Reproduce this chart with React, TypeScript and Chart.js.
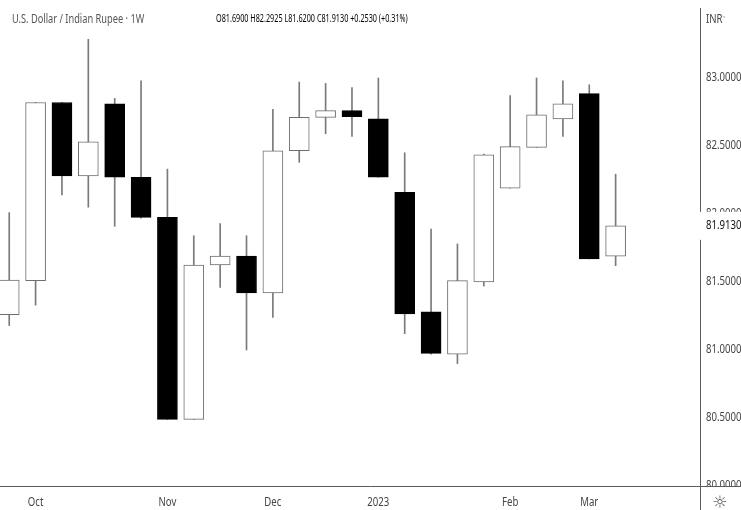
import React, { useEffect, useRef } from "react";
import { Chart, registerables } from "chart.js";

Chart.register(...registerables);

// Weekly USD/INR candles (index 0 = week of 26 Sep 2022 ... index 23 = week of 6 Mar 2023)
const candleIndex = [0, 1, 2, 3, 4, 5, 6, 7, 8, 9, 10, 11, 12, 13, 14, 15, 16, 17, 18, 19, 20, 21, 22, 23];
const opens = [81.26, 81.51, 82.82, 82.28, 82.81, 82.27, 81.975, 80.49, 81.625, 81.69, 81.42, 82.465, 82.71, 82.76, 82.70, 82.16, 81.28, 80.97, 81.50, 82.19, 82.49, 82.70, 82.885, 81.69];
const highs = [82.01, 82.82, 82.82, 83.285, 82.85, 82.98, 82.33, 81.84, 81.93, 81.84, 82.77, 82.97, 82.96, 82.93, 83.0, 82.45, 81.89, 81.78, 82.44, 82.87, 83.0, 82.98, 82.95, 82.2925];
const lows = [81.18, 81.33, 82.14, 82.05, 81.91, 81.97, 80.49, 80.49, 81.46, 81.0, 81.24, 82.38, 82.59, 82.57, 82.27, 81.12, 80.97, 80.90, 81.47, 82.19, 82.49, 82.57, 81.67, 81.62];
const closes = [81.515, 82.82, 82.28, 82.53, 82.27, 81.975, 80.49, 81.625, 81.69, 81.42, 82.465, 82.71, 82.76, 82.715, 82.27, 81.265, 80.975, 81.51, 82.435, 82.495, 82.73, 82.81, 81.67, 81.913];

const monthTickPositions = [1, 6, 10, 14, 19, 22];
const monthTickLabels = ["Oct", "Nov", "Dec", "2023", "Feb", "Mar"];
const priceTicks = [80, 80.5, 81, 81.5, 82, 82.5, 83];
const lastPrice = 81.913;

const FONT = "'Noto Sans', 'DejaVu Sans', sans-serif";
const NARROW = 0.8;

export default function App() {
  const canvasRef = useRef<HTMLCanvasElement | null>(null);

  useEffect(() => {
    document.body.style.margin = "0";
    const canvas = canvasRef.current;
    if (!canvas) return;

    const isDown = candleIndex.map((i) => closes[i] < opens[i]);

    const narrowText = (ctx: any, text: string, x: number, y: number, align: string) => {
      ctx.save();
      ctx.translate(x, y);
      ctx.scale(NARROW, 1);
      ctx.textAlign = align;
      ctx.fillText(text, 0, 0);
      ctx.restore();
    };

    const overlay = {
      id: "tvOverlay",
      afterDraw(chart: any) {
        const ctx = chart.ctx;
        const area = chart.chartArea;
        const W = chart.width;
        const H = chart.height;
        const xScale = chart.scales.x;
        const yScale = chart.scales.y;
        ctx.save();
        ctx.font = "12px " + FONT;
        ctx.textBaseline = "middle";
        ctx.fillStyle = "#444444";
        // price axis labels
        priceTicks.forEach((v) => {
          narrowText(ctx, v.toFixed(4), area.right + 6, yScale.getPixelForValue(v), "left");
        });
        // time axis labels
        monthTickPositions.forEach((p, k) => {
          narrowText(ctx, monthTickLabels[k], xScale.getPixelForValue(p), area.bottom + 17, "center");
        });
        // clip the lowest price label at the time axis line
        ctx.fillStyle = "#ffffff";
        ctx.fillRect(area.right + 1, area.bottom + 1, W - area.right, 9);
        // axis lines
        ctx.strokeStyle = "#5a5a5a";
        ctx.lineWidth = 1;
        ctx.beginPath();
        ctx.moveTo(0, Math.round(area.bottom) + 0.5);
        ctx.lineTo(W, Math.round(area.bottom) + 0.5);
        ctx.moveTo(Math.round(area.right) + 0.5, 8);
        ctx.lineTo(Math.round(area.right) + 0.5, H);
        ctx.stroke();
        // last price label
        const y = yScale.getPixelForValue(lastPrice);
        ctx.fillStyle = "#ffffff";
        ctx.fillRect(area.right - 4, y - 14, W - area.right + 4, 28);
        ctx.fillStyle = "#111111";
        narrowText(ctx, lastPrice.toFixed(4), area.right + 6, y, "left");
        ctx.restore();
      },
    };

    const chart = new Chart(canvas, {
      type: "bar",
      data: {
        datasets: [
          {
            label: "wicks",
            data: candleIndex.map((i) => ({ x: i, y: [lows[i], highs[i]] })) as any,
            backgroundColor: "#7a7a7a",
            borderWidth: 0,
            barThickness: 1,
            grouped: false,
            order: 2,
          } as any,
          {
            label: "bodies",
            data: candleIndex.map((i) => ({ x: i, y: [opens[i], closes[i]] })) as any,
            backgroundColor: candleIndex.map((i) => (isDown[i] ? "#000000" : "#ffffff")),
            borderColor: candleIndex.map((i) => (isDown[i] ? "#000000" : "#6e6e6e")),
            borderWidth: 1,
            borderSkipped: false,
            barThickness: 20,
            grouped: false,
            order: 1,
          } as any,
        ],
      },
      options: {
        animation: false,
        responsive: false,
        devicePixelRatio: 1,
        layout: { padding: 0 },
        plugins: {
          legend: { display: false },
          tooltip: { enabled: false },
          title: { display: false },
        },
        scales: {
          x: {
            type: "linear",
            min: -0.35,
            max: 26.2,
            offset: false,
            grid: { display: false, drawTicks: false },
            border: { display: false },
            ticks: { display: false },
            afterFit: (scale: any) => {
              scale.height = 24;
            },
          },
          y: {
            type: "linear",
            position: "right",
            min: 80,
            max: 83.5735,
            grid: { display: false, drawTicks: false },
            border: { display: false },
            ticks: { display: false },
            afterFit: (scale: any) => {
              scale.width = 41;
            },
          },
        },
      },
      plugins: [overlay],
    } as any);

    return () => {
      chart.destroy();
    };
  }, []);

  const narrowStyle = (scale: number) => ({ transform: `scaleX(${scale})`, transformOrigin: "left center" });

  return (
    <div style={{ position: "absolute", left: 0, top: 0, width: 741, height: 510, background: "#ffffff", fontFamily: FONT }}>
      <canvas ref={canvasRef} width={741} height={510} style={{ position: "absolute", left: 0, top: 0, width: 741, height: 510 }} />
      <div style={{ position: "absolute", left: 12, top: 11, fontSize: 12, color: "#555555", whiteSpace: "nowrap", lineHeight: "16px", ...narrowStyle(0.77) }}>
        U.S. Dollar / Indian Rupee · 1W
      </div>
      <div style={{ position: "absolute", left: 216, top: 11, fontSize: 10.5, color: "#000000", whiteSpace: "nowrap", lineHeight: "15px", ...narrowStyle(0.69) }}>
        O81.6900 H82.2925 L81.6200 C81.9130 +0.2530 (+0.31%)
      </div>
      <div style={{ position: "absolute", left: 706, top: 11, fontSize: 12, color: "#444444", whiteSpace: "nowrap", lineHeight: "16px", ...narrowStyle(0.8) }}>
        INR<span style={{ fontSize: 8, marginLeft: 1 }}>˅</span>
      </div>
      <div style={{ position: "absolute", left: 710, top: 493, width: 20, textAlign: "center", fontSize: 17, color: "#555555", lineHeight: "18px", fontFamily: "'DejaVu Sans', sans-serif" }}>
        ☼
      </div>
    </div>
  );
}
